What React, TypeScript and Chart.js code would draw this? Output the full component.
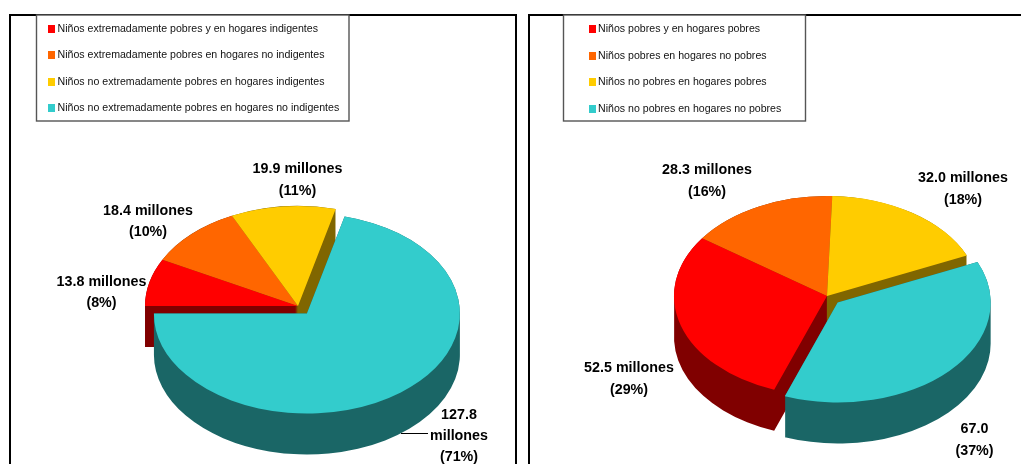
import React, { useEffect, useRef } from "react";
import { Chart, registerables } from "chart.js";

Chart.register(...registerables);

const FONT = '"Liberation Sans", Arial, sans-serif';

const leftCategories = [
  "Niños extremadamente pobres y en hogares indigentes",
  "Niños extremadamente pobres en hogares no indigentes",
  "Niños no extremadamente pobres en hogares indigentes",
  "Niños no extremadamente pobres en hogares no indigentes",
];
const leftValues = [13.8, 18.4, 19.9, 127.8];
const leftValueLabels = [
  ["13.8 millones", "(8%)"],
  ["18.4 millones", "(10%)"],
  ["19.9 millones", "(11%)"],
  ["127.8", "millones", "(71%)"],
];

const rightCategories = [
  "Niños pobres y en hogares pobres",
  "Niños pobres en hogares no pobres",
  "Niños no pobres en hogares pobres",
  "Niños no pobres en hogares no pobres",
];
const rightValues = [52.5, 28.3, 32.0, 67.0];
const rightValueLabels = [
  ["52.5 millones", "(29%)"],
  ["28.3 millones", "(16%)"],
  ["32.0 millones", "(18%)"],
  ["67.0", "(37%)"],
];

const topColors = ["#FF0000", "#FF6600", "#FFCC00", "#33CCCC"];
const sideColors = ["#800000", "#803300", "#806600", "#1A6666"];
const sidePaintOrder = [1, 2, 0, 3];

const RADIUS = 153;
const TILT = 100 / 153;
const DEPTH = 41;
const LEGEND_FONT = 11.5;
const LEGEND_SQUEEZE = 0.922;
const LABEL_FONT = 15.4;
const LABEL_SQUEEZE = 0.93;

type Setup = {
  explode: number[];
  labels: string[][];
  labelPos: number[][];
  lineGap: number[];
  legendBox: number[];
  swatchX: number;
  textX: number;
  legendY: number[];
  leader?: number[];
};

const leftSetup: Setup = {
  explode: [0, 0, 0, 14.5],
  labels: leftValueLabels,
  labelPos: [[101.5, 282], [148, 211], [297.5, 169], [459, 415]],
  lineGap: [21, 21, 21.5, 21],
  legendBox: [36.5, 15, 312.5, 106],
  swatchX: 48,
  textX: 57.5,
  legendY: [29, 55, 82, 108],
  leader: [401, 433.5, 428],
};
const rightSetup: Setup = {
  explode: [0, 0, 0, 14.6],
  labels: rightValueLabels,
  labelPos: [[107, 368], [185, 170], [441, 178], [452.5, 429]],
  lineGap: [22, 21.5, 21.5, 21.5],
  legendBox: [41.5, 15, 242, 106],
  swatchX: 67,
  textX: 76,
  legendY: [29, 56, 82, 109],
};

function squeezedText(ctx: any, t: string, x: number, y: number, sx: number) {
  ctx.save();
  ctx.translate(x, y);
  ctx.scale(sx, 1);
  ctx.fillText(t, 0, 0);
  ctx.restore();
}

function pie3d(setup: Setup) {
  return {
    id: "pie3d",
    beforeDatasetsDraw(chart: any) {
      const ctx = chart.ctx;
      const arcs = chart.getDatasetMeta(0).data;
      const shift = (a: any, i: number) => {
        const mid = (a.startAngle + a.endAngle) / 2;
        ctx.translate(Math.cos(mid) * setup.explode[i], Math.sin(mid) * setup.explode[i]);
      };
      ctx.save();
      ctx.translate(arcs[0].x, arcs[0].y);
      ctx.scale(1, TILT);
      ctx.translate(-arcs[0].x, -arcs[0].y);
      sidePaintOrder.forEach((i) => {
        const a = arcs[i];
        ctx.save();
        shift(a, i);
        ctx.fillStyle = sideColors[i];
        ctx.beginPath();
        for (let d = DEPTH; d >= 0; d--) {
          const dy = d / TILT;
          ctx.moveTo(a.x, a.y + dy);
          ctx.arc(a.x, a.y + dy, a.outerRadius, a.startAngle, a.endAngle);
          ctx.closePath();
        }
        ctx.fill("nonzero");
        ctx.restore();
      });
      arcs.forEach((a: any, i: number) => {
        ctx.save();
        shift(a, i);
        a.draw(ctx);
        ctx.restore();
      });
      ctx.restore();
      return false;
    },
    afterDraw(chart: any) {
      const ctx = chart.ctx;
      const [bx, by, bw, bh] = setup.legendBox;
      ctx.save();
      ctx.fillStyle = "#FFFFFF";
      ctx.strokeStyle = "#555555";
      ctx.lineWidth = 1.4;
      ctx.fillRect(bx, by, bw, bh);
      ctx.strokeRect(bx, by, bw, bh);
      ctx.textBaseline = "middle";
      ctx.textAlign = "left";
      ctx.font = `${LEGEND_FONT}px ${FONT}`;
      chart.data.labels.forEach((t: string, i: number) => {
        const y = setup.legendY[i];
        ctx.fillStyle = topColors[i];
        ctx.fillRect(setup.swatchX, y - 4, 7, 8);
        ctx.fillStyle = "#111111";
        squeezedText(ctx, t, setup.textX, y, LEGEND_SQUEEZE);
      });
      ctx.font = `bold ${LABEL_FONT}px ${FONT}`;
      ctx.textAlign = "center";
      ctx.fillStyle = "#000000";
      setup.labels.forEach((lines, i) => {
        const [x, y] = setup.labelPos[i];
        lines.forEach((t, j) => squeezedText(ctx, t, x, y + j * setup.lineGap[i], LABEL_SQUEEZE));
      });
      if (setup.leader) {
        const [x0, y0, x1] = setup.leader;
        ctx.strokeStyle = "#000000";
        ctx.lineWidth = 1;
        ctx.beginPath();
        ctx.moveTo(x0, y0);
        ctx.lineTo(x1, y0);
        ctx.stroke();
      }
      ctx.restore();
    },
  };
}

function makeChart(
  canvas: HTMLCanvasElement,
  labels: string[],
  values: number[],
  rotation: number,
  padLeft: number,
  padTop: number,
  setup: Setup
) {
  return new Chart(canvas, {
    type: "pie",
    data: {
      labels,
      datasets: [{ data: values, backgroundColor: topColors, borderWidth: 0 }],
    },
    options: {
      responsive: false,
      animation: false,
      rotation,
      circumference: 360,
      radius: RADIUS,
      layout: { padding: { left: padLeft, top: padTop, right: 0, bottom: 0 } },
      plugins: { legend: { display: false }, tooltip: { enabled: false } },
    } as any,
    plugins: [pie3d(setup) as any],
  });
}

export default function App() {
  const leftRef = useRef<HTMLCanvasElement>(null);
  const rightRef = useRef<HTMLCanvasElement>(null);
  useEffect(() => {
    const a = makeChart(leftRef.current!, leftCategories, leftValues, 270, 74, 148, leftSetup);
    const b = makeChart(rightRef.current!, rightCategories, rightValues, 200.2, 111, 128, rightSetup);
    return () => {
      a.destroy();
      b.destroy();
    };
  }, []);
  const frame: React.CSSProperties = {
    position: "absolute",
    top: 14,
    height: 470,
    borderTop: "2px solid #000",
    borderLeft: "2px solid #000",
    borderRight: "2px solid #000",
    boxSizing: "border-box",
  };
  return (
    <div style={{ position: "fixed", inset: 0, overflow: "hidden", background: "#fff" }}>
      <div style={{ ...frame, left: 9, width: 508 }} />
      <div style={{ ...frame, left: 528, width: 520 }} />
      <canvas ref={leftRef} width={522} height={464} style={{ position: "absolute", left: 0, top: 0 }} />
      <canvas ref={rightRef} width={499} height={464} style={{ position: "absolute", left: 522, top: 0 }} />
    </div>
  );
}
